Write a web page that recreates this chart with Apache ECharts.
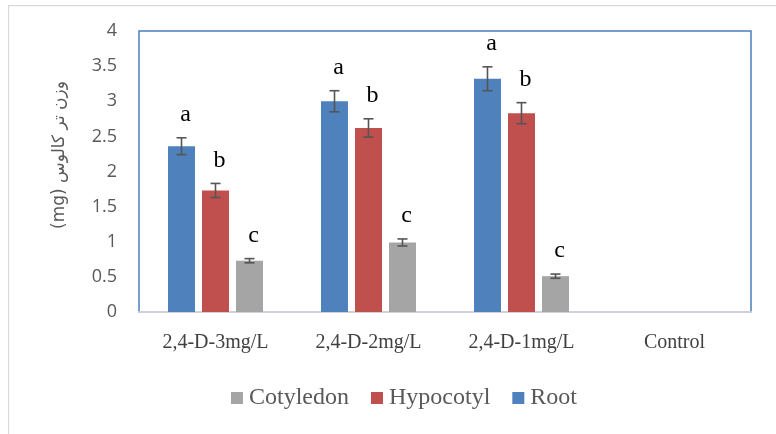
<!DOCTYPE html>
<html><head><meta charset="utf-8">
<script src="https://cdn.jsdelivr.net/npm/echarts@6/dist/echarts.min.js"></script>
<style>html,body{margin:0;padding:0;background:#fff}#c{width:776px;height:434px}</style>
</head><body><div id="c"></div>
<script>
var categories = ['2,4-D-3mg/L', '2,4-D-2mg/L', '2,4-D-1mg/L', 'Control'];
var seriesNames = ['Root', 'Hypocotyl', 'Cotyledon'];
var rootValues = [2.36, 3.00, 3.32, 0];
var rootErrors = [0.12, 0.15, 0.17, 0];
var rootLetters = ['a', 'a', 'a', ''];
var hypocotylValues = [1.73, 2.62, 2.83, 0];
var hypocotylErrors = [0.10, 0.13, 0.15, 0];
var hypocotylLetters = ['b', 'b', 'b', ''];
var cotyledonValues = [0.73, 0.99, 0.51, 0];
var cotyledonErrors = [0.03, 0.05, 0.03, 0];
var cotyledonLetters = ['c', 'c', 'c', ''];
var yTicks = [0, 0.5, 1, 1.5, 2, 2.5, 3, 3.5, 4];
var yAxisTitle = '(mg) وزن تر کالوس';

var colors = ['#4F81BD', '#C0504D', '#A5A5A5'];
var BAR_W = 27, BAR_GAP_PX = 7;
var valuesList = [rootValues, hypocotylValues, cotyledonValues];
var errorsList = [rootErrors, hypocotylErrors, cotyledonErrors];
var lettersList = [rootLetters, hypocotylLetters, cotyledonLetters];

var chart = echarts.init(document.getElementById('c'));
var series = [];
seriesNames.forEach(function (name, i) {
  series.push({
    name: name, type: 'bar', data: valuesList[i],
    barWidth: BAR_W, barGap: (BAR_GAP_PX / BAR_W * 100) + '%',
    itemStyle: { color: colors[i] }, z: 2
  });
});
seriesNames.forEach(function (name, i) {
  var offset = (i - 1) * (BAR_W + BAR_GAP_PX);
  var data = categories.map(function (c, k) {
    return [k, valuesList[i][k], errorsList[i][k], lettersList[i][k]];
  });
  series.push({
    type: 'custom', data: data, z: 5, silent: true,
    encode: { x: 0, y: 1 },
    renderItem: function (params, api) {
      var k = api.value(0), v = api.value(1), e = api.value(2);
      var letter = data[params.dataIndex][3];
      var top = api.coord([k, v + e]);
      var bot = api.coord([k, v - e]);
      var x = top[0] + offset;
      var children = [];
      if (e > 0) {
        var st = { stroke: '#555555', lineWidth: 1.6 };
        children.push({ type: 'line', shape: { x1: x, y1: top[1], x2: x, y2: bot[1] }, style: st });
        children.push({ type: 'line', shape: { x1: x - 5, y1: top[1], x2: x + 5, y2: top[1] }, style: st });
        children.push({ type: 'line', shape: { x1: x - 5, y1: bot[1], x2: x + 5, y2: bot[1] }, style: st });
      }
      if (letter) {
        children.push({ type: 'text', style: { text: letter, x: x + 4, y: top[1] - 23,
          align: 'center', verticalAlign: 'middle', fill: '#000',
          font: '24px "Liberation Serif", "Times New Roman", serif' } });
      }
      return { type: 'group', children: children };
    }
  });
});

chart.setOption({
  animation: false,
  backgroundColor: '#fff',
  grid: { left: 139, top: 31, right: 25, bottom: 122, show: true,
    borderColor: '#4A7EBB', borderWidth: 1.5, backgroundColor: 'transparent' },
  legend: {
    data: ['Cotyledon', 'Hypocotyl', 'Root'], bottom: 19, left: 226,
    itemWidth: 12, itemHeight: 12, itemGap: 22, icon: 'rect',
    textStyle: { fontFamily: '"Liberation Serif", "Times New Roman", serif', fontSize: 24, color: '#595959', padding: [0, 0, 0, 1] }
  },
  xAxis: {
    type: 'category', data: categories,
    axisLine: { lineStyle: { color: '#D0D0D8', width: 2 } },
    axisTick: { show: false },
    axisLabel: { margin: 21, fontFamily: '"Liberation Serif", "Times New Roman", serif', fontSize: 20, color: '#404040' }
  },
  yAxis: {
    type: 'value', min: yTicks[0], max: yTicks[yTicks.length - 1], interval: yTicks[1] - yTicks[0],
    axisLine: { show: false }, axisTick: { show: false }, splitLine: { show: false },
    axisLabel: { margin: 22, fontFamily: '"Open Sans", "Liberation Sans", sans-serif', fontSize: 18, color: '#595959' }
  },
  graphic: [
    { type: 'rect', left: 8, top: 5, shape: { width: 800, height: 500 }, silent: true,
      style: { fill: 'transparent', stroke: '#D9D9D9', lineWidth: 1.2 } },
    { type: 'text', x: 60, y: 155, rotation: Math.PI / 2,
      style: { text: yAxisTitle, align: 'center', verticalAlign: 'middle',
        font: '17px "DejaVu Sans", sans-serif', fill: '#595959' } }
  ],
  series: series
});
</script></body></html>
